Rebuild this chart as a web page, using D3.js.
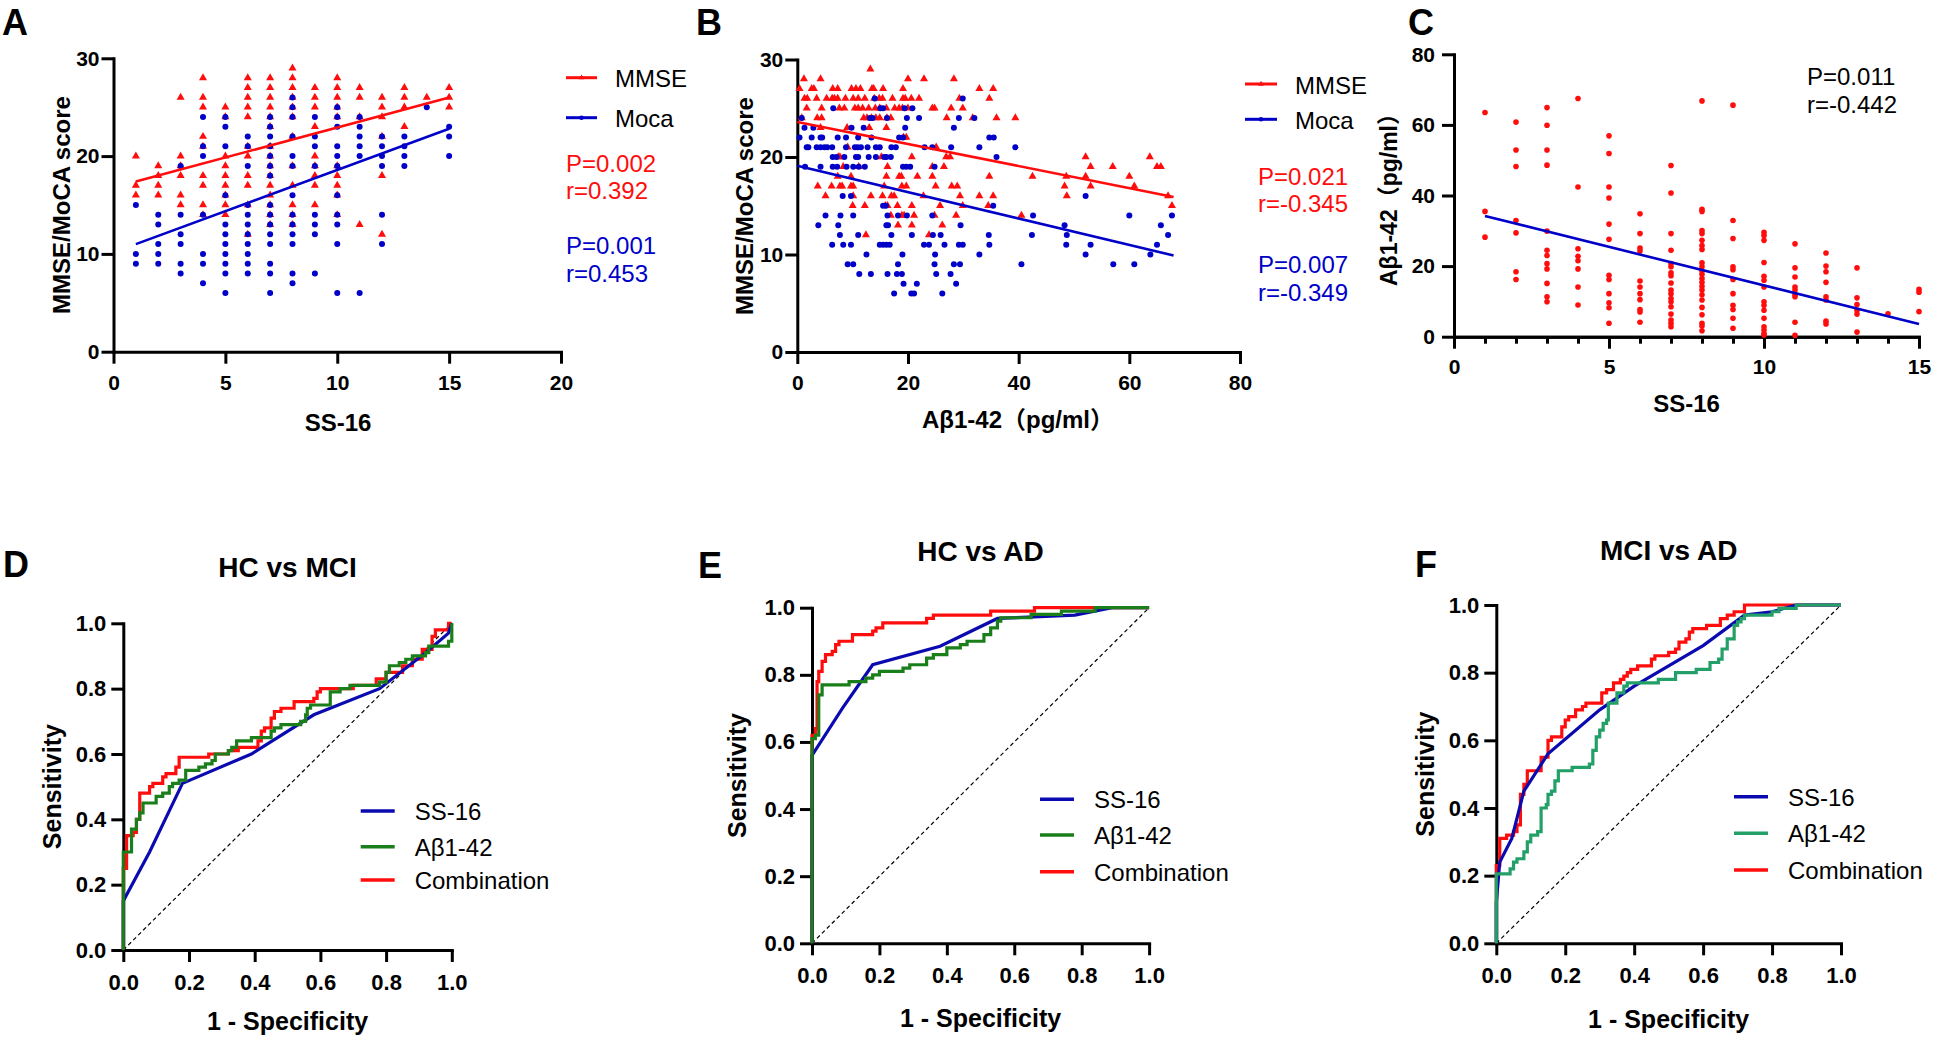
<!DOCTYPE html>
<html><head><meta charset="utf-8">
<script src="https://cdn.jsdelivr.net/npm/d3@7"></script>
<style>
body{margin:0;background:#fff}
svg{display:block}
text{font-family:"Liberation Sans",Arial,"Noto Sans CJK SC",sans-serif}
</style>
</head><body>
<svg id="c" width="1946" height="1039"></svg>
<script>
// ---------------- DATA ----------------
// Panel A: SS-16 levels (x) and MMSE / MoCA scores at each level
const ss16Levels = [1,2,3,4,5,6,7,8,9,10,11,12,13,14,15];
const aMmseY = [[20,17,16],[19,18,17,16],[26,20,19,18,16,15],[28,26,25,22,21,18,17,15,14],[25,24,20,19,18,17,16,15,14],[28,27,26,25,24,21,20,18,17,15,12],[28,27,26,25,24,23,21,20,19,18,17,16,15,14,13],[29,28,27,26,25,24,22,19,17,15,14,13],[27,26,25,23,20,19,18,17,15],[28,27,26,25,24,19,18,17,16,14],[27,26,24,13],[26,25,24,22,18,12],[27,26,25,23],[26],[27,26,25]];
const aMocaY = [[15,10,9],[14,13,11,10,9],[19,14,12,11,9,8],[24,21,20,14,10,9,7],[24,23,21,16,13,12,11,10,9,8,6],[22,21,19,15,14,13,12,11,10,9,8],[24,23,22,21,20,19,18,15,14,13,12,11,9,8,6],[26,25,24,22,20,19,16,14,13,12,11,8,7],[24,22,21,19,14,13,12,8],[25,24,23,21,20,19,16,14,13,11,6],[24,23,22,21,20,6],[22,21,20,19,14,11],[22,21,20,19],[25],[23,22,20]];
const aFitMmse = [[1,17.4],[15,26.0]];
const aFitMoca = [[1,11.0],[15,22.8]];

// Panel B: rows of [score, Aβ1-42 values]
const bMmseRows = [
 [29,[13.2]],
 [28,[1.2,4.2,20.0,22.9,28.3]],
 [27,[0.4,2.6,3.0,6.4,7.3,9.8,10.6,11.4,13.5,13.8,15.5,19.1,32.9,35.4]],
 [26,[1.3,1.8,3.5,5.3,6.3,6.7,7.3,8.7,10.1,11.0,12.2,13.9,14.8,15.4,17.2,19.1,19.5,20.6,22.0,29.3,34.7]],
 [25,[1.7,4.4,7.6,8.5,10.4,11.0,11.8,12.9,14.1,14.9,16.1,17.6,18.4,19.0,20.0,24.4,24.8,27.8,29.9]],
 [24,[0.8,3.6,4.4,12.0,12.6,13.4,14.2,14.9,16.2,16.9,27.0,31.7,36.0,39.4]],
 [23,[4.2,9.0,13.0,16.1]],
 [22,[19.2,19.7]],
 [21,[9.1,25.1]],
 [20,[7.4,7.7,15.2,20.7,26.9,27.6,52.1,63.7]],
 [19,[8.3,11.1,16.3,24.4,26.5,53.0,57.0,65.0,65.7]],
 [18,[7.3,9.7,16.1,18.4,18.8,21.7,24.4,34.7,42.5,48.6,52.1,60.0]],
 [17,[3.7,6.2,7.7,8.1,9.7,10.1,15.7,18.9,19.7,25.0,27.9,28.9,48.3,53.0,60.9]],
 [16,[5.1,10.1,13.3,15.4,17.0,17.5,22.8,29.4,32.9,35.4,48.7,67.0]],
 [15,[10.0,12.2,15.9,16.3,18.1,20.7,25.8,29.9,34.5,67.7]],
 [14,[16.9,18.9,19.3,21.1,24.8,28.7,40.5]],
 [13,[18.2,20.7,26.2]],
 [12,[12.4,23.8]]
];
const bMocaRows = [
 [26,[14.0,29.9]],
 [25,[6.5,15.0,15.5,19.4,20.8]],
 [24,[0.8,13.1,13.6,16.2,19.8,22.0,29.2,32.0]],
 [23,[1.3,2.9,9.8,12.0,19.5,28.3]],
 [22,[0.4,2.6,4.2,4.5,7.3,8.8,11.0,13.4,18.4,19.1,34.7,35.5]],
 [21,[1.7,2.0,3.5,4.2,4.9,5.4,6.3,8.8,10.4,10.9,11.5,12.7,14.2,14.9,17.0,17.8,23.0,24.4,27.8,32.9,39.4]],
 [20,[6.4,7.1,8.5,10.6,11.0,12.9,14.2,15.7,16.1,16.9,36.0]],
 [19,[1.4,4.2,6.4,7.2,8.9,10.1,11.1,12.2,19.1,19.7,20.4,24.8]],
 [16,[8.2,9.7,52.1]],
 [15,[15.5,16.0,35.4]],
 [14,[5.1,7.8,10.1,16.3,18.2,19.8,24.4,42.6,60.0,67.7]],
 [13,[3.8,7.4,16.1,16.4,29.5,48.3,65.7]],
 [12,[7.7,11.0,17.0,20.7,24.5,25.9,34.6,42.4,48.7,67.0]],
 [11,[6.3,8.3,9.7,14.9,15.5,16.1,16.7,22.9,23.8,26.6,29.2,29.9,34.7,48.6,53.0,65.0]],
 [10,[12.5,19.0,24.9,32.9,52.1,63.8]],
 [9,[9.1,10.1,18.2,24.8,28.3,29.4,40.5,57.1,60.9]],
 [8,[11.2,13.3,16.3,18.0,18.9,25.1,27.7]],
 [7,[19.2,21.6,28.7]],
 [6,[17.5,20.6,21.1,26.2]]
];
const bFitMmse = [[0,23.6],[68,15.9]];
const bFitMoca = [[0,19.1],[68,9.9]];

// Panel C: Aβ1-42 values at each SS-16 level
const cAbeta = [
 [63.5,35.5,28.2],
 [60.8,52.9,48.2,32.9,29.4,18.4,16.2],
 [64.9,59.9,52.9,48.6,29.9,24.5,23.0,20.7,19.2,15.1,11.3,9.9],
 [67.5,42.4,24.9,22.8,21.5,19.2,14.1,9.0],
 [56.9,51.9,42.4,39.3,31.9,27.6,17.4,16.2,12.2,9.6,8.2,3.8],
 [34.8,29.2,25.1,24.3,15.8,14.1,12.2,10.5,7.7,7.0,4.1],
 [48.5,40.7,29.2,24.5,20.7,19.8,18.1,17.3,15.2,13.2,12.2,10.8,9.9,8.5,6.4,4.7,3.8,2.8],
 [66.8,36.1,35.5,30.1,29.2,27.3,25.8,24.7,20.9,19.8,18.6,17.7,16.5,15.4,14.3,13.2,11.9,10.4,8.3,6.2,3.8,3.0,1.7],
 [65.6,32.9,27.8,19.8,19.0,16.2,12.2,8.9,7.7,5.2,2.4],
 [29.6,28.7,27.3,21.0,17.1,16.0,14.1,9.9,8.9,7.5,5.2,2.8,1.9,0.9,0.5],
 [26.3,19.5,16.9,14.1,13.2,11.9,11.3,4.1,0.4],
 [23.7,20.0,18.4,15.4,11.3,10.4,4.4,3.6],
 [19.5,11.0,9.1,7.5,6.4,1.3],
 [6.5],
 [13.4,12.6,7.1]
];
const cFit = [[1,34.2],[15,3.6]];

// ROC curves: [1 - specificity, sensitivity]
const dSs16 = [[0,0],[0,0.15],[0.08,0.30],[0.18,0.51],[0.39,0.60],[0.58,0.72],[0.78,0.80],[0.92,0.91],[0.99,0.97],[1,1]];
const dAbeta = [[0,0],[0,0.30],[0.025,0.37],[0.04,0.40],[0.05,0.42],[0.06,0.45],[0.10,0.47],[0.12,0.48],[0.14,0.50],[0.15,0.51],[0.17,0.52],[0.19,0.55],[0.23,0.56],[0.25,0.57],[0.27,0.58],[0.28,0.60],[0.32,0.61],[0.33,0.62],[0.345,0.64],[0.39,0.65],[0.45,0.67],[0.46,0.68],[0.48,0.69],[0.54,0.70],[0.555,0.72],[0.56,0.74],[0.57,0.75],[0.63,0.79],[0.66,0.80],[0.69,0.81],[0.78,0.82],[0.80,0.85],[0.81,0.87],[0.84,0.88],[0.86,0.89],[0.88,0.90],[0.92,0.91],[0.93,0.93],[0.99,0.945],[1,1]];
const dComb = [[0,0],[0,0.25],[0.01,0.35],[0.03,0.36],[0.04,0.40],[0.05,0.48],[0.08,0.50],[0.09,0.51],[0.12,0.53],[0.13,0.54],[0.16,0.56],[0.17,0.59],[0.26,0.60],[0.32,0.61],[0.35,0.62],[0.41,0.64],[0.42,0.67],[0.43,0.68],[0.45,0.71],[0.46,0.73],[0.48,0.74],[0.52,0.76],[0.58,0.77],[0.59,0.79],[0.60,0.80],[0.70,0.81],[0.77,0.83],[0.80,0.85],[0.85,0.87],[0.88,0.89],[0.91,0.92],[0.94,0.96],[0.95,0.98],[0.99,1.0],[1,1]];

const eSs16 = [[0,0],[0,0.56],[0.09,0.70],[0.18,0.83],[0.38,0.885],[0.55,0.968],[0.78,0.978],[0.89,1],[1,1]];
const eAbeta = [[0,0],[0,0.61],[0.01,0.62],[0.02,0.74],[0.03,0.77],[0.11,0.78],[0.16,0.79],[0.18,0.80],[0.20,0.81],[0.27,0.82],[0.29,0.83],[0.34,0.85],[0.36,0.86],[0.40,0.88],[0.44,0.89],[0.46,0.90],[0.51,0.92],[0.53,0.94],[0.55,0.96],[0.56,0.97],[0.65,0.98],[0.74,0.99],[0.84,1],[1,1]];
const eComb = [[0,0],[0,0.62],[0.01,0.64],[0.015,0.78],[0.02,0.81],[0.03,0.84],[0.04,0.86],[0.06,0.87],[0.07,0.89],[0.08,0.90],[0.12,0.92],[0.18,0.93],[0.19,0.94],[0.21,0.955],[0.34,0.968],[0.36,0.978],[0.53,0.99],[0.66,1],[1,1]];

const fSs16 = [[0,0],[0,0.12],[0.01,0.24],[0.045,0.31],[0.08,0.45],[0.15,0.56],[0.30,0.69],[0.40,0.76],[0.60,0.88],[0.72,0.97],[0.80,0.98],[0.87,1],[1,1]];
const fAbeta = [[0,0],[0,0.205],[0.03,0.205],[0.04,0.22],[0.05,0.24],[0.06,0.25],[0.08,0.27],[0.09,0.30],[0.10,0.32],[0.12,0.33],[0.13,0.40],[0.145,0.41],[0.15,0.44],[0.16,0.45],[0.17,0.48],[0.18,0.51],[0.22,0.52],[0.27,0.53],[0.28,0.57],[0.29,0.61],[0.30,0.63],[0.31,0.65],[0.32,0.66],[0.325,0.71],[0.35,0.74],[0.37,0.76],[0.38,0.77],[0.47,0.78],[0.52,0.80],[0.58,0.81],[0.62,0.83],[0.645,0.84],[0.655,0.87],[0.67,0.90],[0.69,0.94],[0.70,0.95],[0.71,0.96],[0.72,0.97],[0.80,0.98],[0.82,0.99],[0.87,1],[1,1]];
const fComb = [[0,0],[0,0.23],[0.01,0.31],[0.03,0.32],[0.05,0.33],[0.06,0.35],[0.07,0.44],[0.08,0.47],[0.09,0.51],[0.13,0.55],[0.15,0.60],[0.16,0.61],[0.19,0.64],[0.20,0.66],[0.21,0.67],[0.23,0.69],[0.25,0.70],[0.26,0.71],[0.306,0.74],[0.32,0.75],[0.34,0.77],[0.36,0.78],[0.37,0.79],[0.38,0.80],[0.39,0.81],[0.41,0.82],[0.45,0.84],[0.46,0.85],[0.50,0.86],[0.52,0.87],[0.53,0.89],[0.55,0.90],[0.56,0.92],[0.57,0.93],[0.61,0.94],[0.65,0.96],[0.67,0.97],[0.69,0.98],[0.72,1],[1,1]];

const scatterXTicksA = [0,5,10,15,20];
const scatterXTicksB = [0,20,40,60,80];
const scatterYTicksAB = [0,10,20,30];
const cXTicks = [0,5,10,15];
const cXMinor = [1,2,3,4,6,7,8,9,11,12,13,14];
const cYTicks = [0,20,40,60,80];
const rocTicks = [0,0.2,0.4,0.6,0.8,1.0];
const rocLegend = ["SS-16","Aβ1-42","Combination"];

// ---------------- DRAWING ----------------
const RED = "#ff0d0d", BLUE = "#0a0ab0", GREEN = "#1a7f1a", TEAL = "#23a068", DBLUE = "#0000c8";
const svg = d3.select("#c");
const FONT = '"Liberation Sans", Arial, "Noto Sans CJK SC", sans-serif';

function styleAxis(g, fs) {
  g.attr("font-family", FONT).attr("font-size", fs).attr("font-weight", "bold");
  g.selectAll("path.domain").attr("stroke", "#000").attr("stroke-width", 3).attr("stroke-linecap", "square");
  g.selectAll(".tick line").attr("stroke", "#000").attr("stroke-width", 3);
  g.selectAll(".tick text").attr("fill", "#000");
}
function axes(x, y, o) {
  const gx = svg.append("g").attr("transform", `translate(0,${y.range()[0]})`)
    .call(d3.axisBottom(x).tickValues(o.xTicks).tickSize(12).tickSizeOuter(0).tickPadding(o.xPad).tickFormat(o.fmt));
  styleAxis(gx, o.fs);
  if (o.xMinor) {
    const gm = svg.append("g").attr("transform", `translate(0,${y.range()[0]})`)
      .call(d3.axisBottom(x).tickValues(o.xMinor).tickSize(7).tickSizeOuter(0).tickFormat(""));
    styleAxis(gm, o.fs);
  }
  const gy = svg.append("g").attr("transform", `translate(${x.range()[0]},0)`)
    .call(d3.axisLeft(y).tickValues(o.yTicks).tickSize(12).tickSizeOuter(0).tickPadding(o.yPad).tickFormat(o.fmt));
  styleAxis(gy, o.fs);
}
function text(x, y, s, o = {}) {
  return svg.append("text").attr("x", x).attr("y", y).text(s)
    .attr("font-family", FONT).attr("font-size", o.fs || 24)
    .attr("font-weight", o.bold ? "bold" : "normal")
    .attr("fill", o.fill || "#000").attr("text-anchor", o.anchor || "start");
}
function vtext(x, y, s, fs) {
  svg.append("text").attr("transform", `translate(${x},${y}) rotate(-90)`).text(s)
    .attr("font-family", FONT).attr("font-size", fs).attr("font-weight", "bold")
    .attr("text-anchor", "middle");
}
const tri = d3.symbol().type(d3.symbolTriangle).size(28);
function triangles(pts, x, y, color) {
  svg.append("g").selectAll("path").data(pts).join("path")
    .attr("d", tri).attr("fill", color)
    .attr("transform", d => `translate(${x(d[0])},${y(d[1])})`);
}
function dots(pts, x, y, color, r) {
  svg.append("g").selectAll("circle").data(pts).join("circle")
    .attr("cx", d => x(d[0])).attr("cy", d => y(d[1])).attr("r", r).attr("fill", color);
}
function line(pts, x, y, color, w, curve) {
  svg.append("path").datum(pts)
    .attr("d", d3.line().x(d => x(d[0])).y(d => y(d[1])).curve(curve || d3.curveLinear))
    .attr("fill", "none").attr("stroke", color).attr("stroke-width", w)
    .attr("stroke-linejoin", "miter");
}
const fromLevels = ys => ys.flatMap((arr, i) => arr.map(v => [ss16Levels[i], v]));
const fromRows = rows => rows.flatMap(([s, xs]) => xs.map(v => [v, s]));

// ---- Panel A ----
{
  const x = d3.scaleLinear().domain([0, 20]).range([113.5, 561]);
  const y = d3.scaleLinear().domain([0, 30]).range([351.7, 58.3]);
  axes(x, y, {xTicks: scatterXTicksA, yTicks: scatterYTicksAB, xPad: 11, yPad: 2, fs: 21, fmt: d => d});
  triangles(fromLevels(aMmseY), x, y, RED);
  dots(fromLevels(aMocaY), x, y, DBLUE, 3);
  line(aFitMmse, x, y, RED, 2.6);
  line(aFitMoca, x, y, DBLUE, 2.6);
  text(338, 431, "SS-16", {bold: true, fs: 24, anchor: "middle"});
  vtext(69.5, 205, "MMSE/MoCA score", 24);
  text(2, 35, "A", {bold: true, fs: 36});
  // legend
  [[77.7, "MMSE", RED, "t"], [117.7, "Moca", DBLUE, "c"]].forEach(([ly, lab, col, m]) => {
    svg.append("line").attr("x1", 566).attr("x2", 597).attr("y1", ly).attr("y2", ly).attr("stroke", col).attr("stroke-width", 3);
    if (m === "t") svg.append("path").attr("d", d3.symbol().type(d3.symbolTriangle).size(14)()).attr("fill", col).attr("transform", `translate(581.5,${ly})`);
    else svg.append("circle").attr("cx", 581.5).attr("cy", ly).attr("r", 2.3).attr("fill", col);
    text(615, ly + 9.3, lab, {fs: 24});
  });
  text(566, 171.7, "P=0.002", {fill: RED});
  text(566, 199.3, "r=0.392", {fill: RED});
  text(566, 254, "P=0.001", {fill: DBLUE});
  text(566, 281.7, "r=0.453", {fill: DBLUE});
}

// ---- Panel B ----
{
  const x = d3.scaleLinear().domain([0, 80]).range([797.3, 1240]);
  const y = d3.scaleLinear().domain([0, 30]).range([352, 59.5]);
  axes(x, y, {xTicks: scatterXTicksB, yTicks: scatterYTicksAB, xPad: 11, yPad: 2, fs: 21, fmt: d => d});
  triangles(fromRows(bMmseRows), x, y, RED);
  dots(fromRows(bMocaRows), x, y, DBLUE, 3);
  line(bFitMmse, x, y, RED, 2.6);
  line(bFitMoca, x, y, DBLUE, 2.6);
  text(1018, 428, "Aβ1-42（pg/ml）", {bold: true, fs: 24, anchor: "middle"});
  vtext(753, 206, "MMSE/MoCA score", 24);
  text(696, 35, "B", {bold: true, fs: 36});
  [[84, "MMSE", RED, "t"], [119.3, "Moca", DBLUE, "c"]].forEach(([ly, lab, col, m]) => {
    svg.append("line").attr("x1", 1245).attr("x2", 1277).attr("y1", ly).attr("y2", ly).attr("stroke", col).attr("stroke-width", 3);
    if (m === "t") svg.append("path").attr("d", d3.symbol().type(d3.symbolTriangle).size(14)()).attr("fill", col).attr("transform", `translate(1261,${ly})`);
    else svg.append("circle").attr("cx", 1261).attr("cy", ly).attr("r", 2.3).attr("fill", col);
    text(1295, ly + 10, lab, {fs: 24});
  });
  text(1258, 185, "P=0.021", {fill: RED});
  text(1258, 211.7, "r=-0.345", {fill: RED});
  text(1258, 272.7, "P=0.007", {fill: DBLUE});
  text(1258, 300.7, "r=-0.349", {fill: DBLUE});
}

// ---- Panel C ----
{
  const x = d3.scaleLinear().domain([0, 15]).range([1454, 1919]);
  const y = d3.scaleLinear().domain([0, 80]).range([336.7, 54.3]);
  axes(x, y, {xTicks: cXTicks, xMinor: cXMinor, yTicks: cYTicks, xPad: 10, yPad: 7, fs: 21, fmt: d => d});
  dots(fromLevels(cAbeta), x, y, RED, 2.8);
  line(cFit, x, y, DBLUE, 2.6);
  text(1686.5, 412, "SS-16", {bold: true, fs: 24, anchor: "middle"});
  vtext(1396.7, 194, "Aβ1-42（pg/ml）", 23);
  text(1408, 35, "C", {bold: true, fs: 36});
  text(1807, 85, "P=0.011");
  text(1807, 112.7, "r=-0.442");
}

// ---- ROC panels ----
function roc(p) {
  const x = d3.scaleLinear().domain([0, 1]).range([p.x0, p.x1]);
  const y = d3.scaleLinear().domain([0, 1]).range([p.y0, p.y1]);
  axes(x, y, {xTicks: rocTicks, yTicks: rocTicks, xPad: 12, yPad: 5, fs: 22, fmt: d3.format(".1f")});
  svg.append("line").attr("x1", x(0)).attr("y1", y(0)).attr("x2", x(1)).attr("y2", y(1))
    .attr("stroke", "#000").attr("stroke-width", 1.2).attr("stroke-dasharray", "4,3");
  line(p.comb, x, y, RED, 3.2, d3.curveStepAfter);
  line(p.ss, x, y, BLUE, 3.2);
  line(p.ab, x, y, p.green, 3.2, d3.curveStepAfter);
  text((p.x0 + p.x1) / 2, p.tY, p.title, {bold: true, fs: 28, anchor: "middle"});
  text((p.x0 + p.x1) / 2, p.xtY, "1 - Specificity", {bold: true, fs: 25, anchor: "middle"});
  vtext(p.ytX, (p.y0 + p.y1) / 2, "Sensitivity", 25);
  text(p.lx, p.ly, p.letter, {bold: true, fs: 36});
  const cols = [BLUE, p.green, RED];
  rocLegend.forEach((lab, i) => {
    const ly = p.legY[i];
    svg.append("line").attr("x1", p.legX).attr("x2", p.legX + 34).attr("y1", ly).attr("y2", ly)
      .attr("stroke", cols[i]).attr("stroke-width", 3.5);
    text(p.legX + 54, ly + 9, lab, {fs: 24});
  });
}
roc({x0: 123.3, x1: 451.8, y0: 950, y1: 623.3, ss: dSs16, ab: dAbeta, comb: dComb, green: GREEN,
     title: "HC vs MCI", tY: 577, xtY: 1030, ytX: 61, letter: "D", lx: 3, ly: 577,
     legX: 360.7, legY: [811, 846.7, 880]});
roc({x0: 812, x1: 1149.1, y0: 943.3, y1: 607.7, ss: eSs16, ab: eAbeta, comb: eComb, green: GREEN,
     title: "HC vs AD", tY: 561, xtY: 1026.7, ytX: 746, letter: "E", lx: 698, ly: 578,
     legX: 1040, legY: [799.3, 835, 871.7]});
roc({x0: 1496.3, x1: 1841, y0: 943.3, y1: 605, ss: fSs16, ab: fAbeta, comb: fComb, green: TEAL,
     title: "MCI vs AD", tY: 559.5, xtY: 1028, ytX: 1434, letter: "F", lx: 1415, ly: 577,
     legX: 1734, legY: [796.7, 833.3, 870]});
</script>
</body></html>
